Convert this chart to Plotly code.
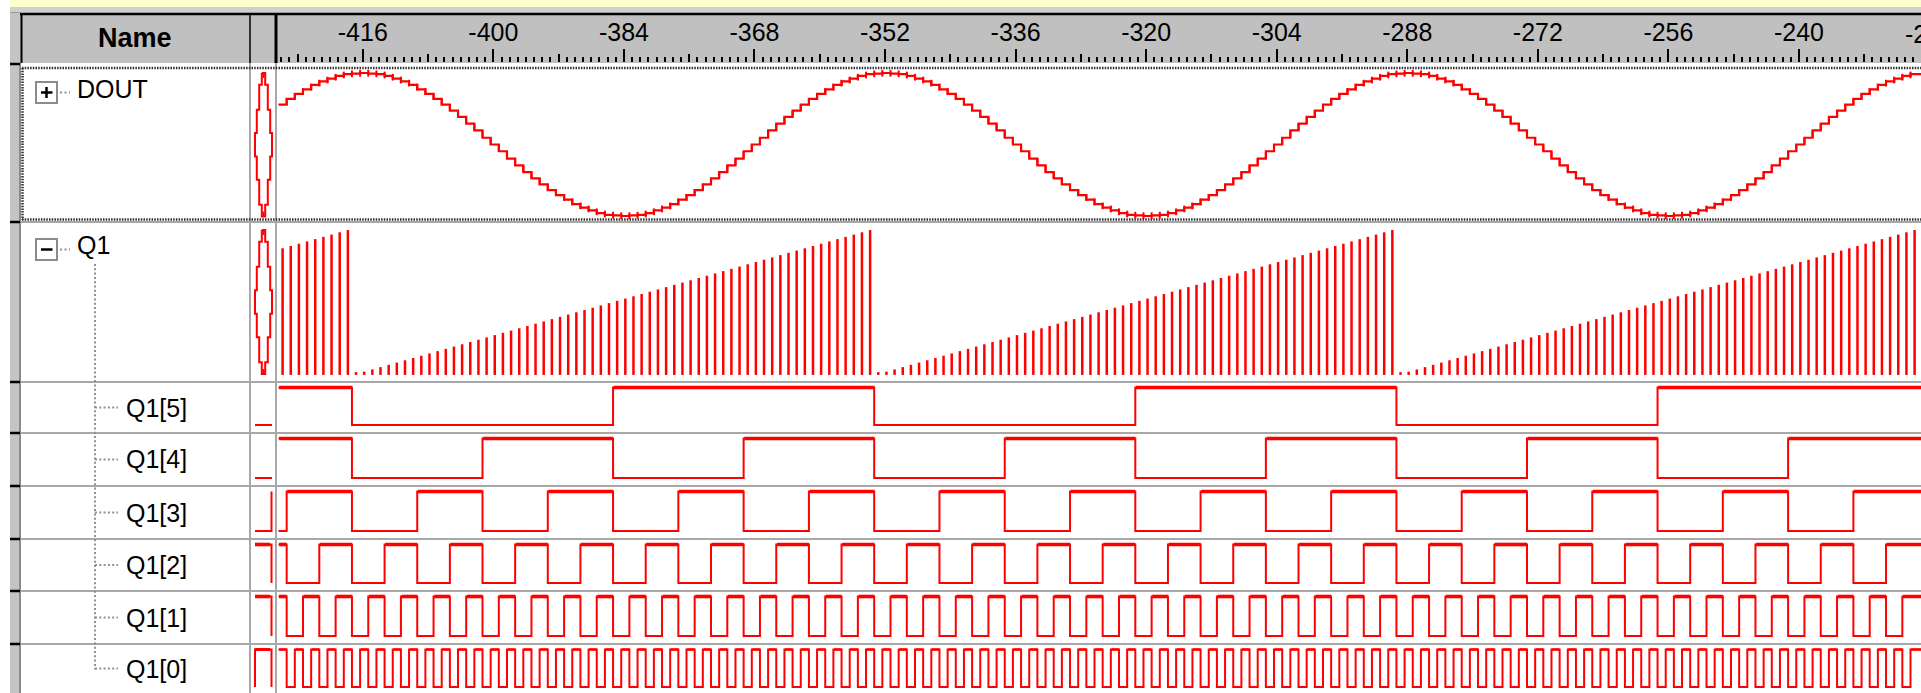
import plotly.graph_objects as go

# ---------------- data ----------------
tick_values = [-416, -400, -384, -368, -352, -336, -320, -304, -288, -272, -256, -240]
tick_labels = ["-416", "-400", "-384", "-368", "-352", "-336", "-320", "-304",
               "-288", "-272", "-256", "-240"]
mid_tick_values = [-424, -408, -392, -376, -360, -344, -328, -312, -296, -280,
                   -264, -248, -232]
minor_tick_step = 1
cut_label_value = -224
cut_label_text = "-224"

group_names = ["DOUT", "Q1"]
bit_names = ["Q1[5]", "Q1[4]", "Q1[3]", "Q1[2]", "Q1[1]", "Q1[0]"]
bit_positions = [5, 4, 3, 2, 1, 0]
# glyph shown in the value column for each bit row
bit_value_glyphs = ["low", "low", "rise", "fall", "fall", "pulse"]

time_start = -426.33
clock_period = 1.0

# counter Q1 value in every clock step visible in the window
q1_values = [
    55, 56, 57, 58, 59, 60, 61, 62, 63,
    0, 1, 2, 3, 4, 5, 6, 7, 8, 9, 10, 11, 12, 13, 14, 15, 16, 17, 18, 19, 20, 21,
    22, 23, 24, 25, 26, 27, 28, 29, 30, 31, 32, 33, 34, 35, 36, 37, 38, 39, 40, 41,
    42, 43, 44, 45, 46, 47, 48, 49, 50, 51, 52, 53, 54, 55, 56, 57, 58, 59, 60, 61,
    62, 63,
    0, 1, 2, 3, 4, 5, 6, 7, 8, 9, 10, 11, 12, 13, 14, 15, 16, 17, 18, 19, 20, 21,
    22, 23, 24, 25, 26, 27, 28, 29, 30, 31, 32, 33, 34, 35, 36, 37, 38, 39, 40, 41,
    42, 43, 44, 45, 46, 47, 48, 49, 50, 51, 52, 53, 54, 55, 56, 57, 58, 59, 60, 61,
    62, 63,
    0, 1, 2, 3, 4, 5, 6, 7, 8, 9, 10, 11, 12, 13, 14, 15, 16, 17, 18, 19, 20, 21,
    22, 23, 24, 25, 26, 27, 28, 29, 30, 31, 32, 33, 34, 35, 36, 37, 38, 39, 40, 41,
    42, 43, 44, 45, 46, 47, 48, 49, 50, 51, 52, 53, 54, 55, 56, 57, 58, 59, 60, 61,
    62, 63,
]

# sine ROM read by the counter (DOUT shows the word addressed one clock earlier)
dout_rom = [
    255, 254, 253, 250, 245, 240, 234, 226, 218, 209, 199, 188, 177, 165, 153, 140,
    128, 116, 103, 91, 79, 68, 57, 47, 38, 30, 22, 16, 11, 6, 3, 2,
    1, 2, 3, 6, 11, 16, 22, 30, 38, 47, 57, 68, 79, 91, 103, 116,
    128, 140, 153, 165, 177, 188, 199, 209, 218, 226, 234, 240, 245, 250, 253, 254,
]
dout_first_address = 54
dout_values = [dout_rom[a] for a in [dout_first_address] + q1_values[:-1]]

# ---------------- geometry (pixels) ----------------
W, H = 1921, 693
FONT = "Liberation Sans, Arial, sans-serif"
RED = "#FF0000"
PX_PER_UNIT = 8.16
TICK_REF_T, TICK_REF_PX = -416, 362.8
WAVE_L = 278


def px(x):
    return x / W


def py(y):
    return 1 - y / H


def t_at(xpix):
    return TICK_REF_T + (xpix - TICK_REF_PX) / PX_PER_UNIT


def x_of(t):
    return TICK_REF_PX + (t - TICK_REF_T) * PX_PER_UNIT


x_range = [t_at(WAVE_L), t_at(W)]


def ydom(top, bottom):
    return [max(0.0, py(bottom)), min(1.0, py(top))]


def yrng(top, bottom, v_hi, px_hi, v_lo, px_lo):
    s = (px_lo - px_hi) / (v_hi - v_lo)
    return [v_lo - (bottom - px_lo) / s, v_hi + (px_hi - top) / s]


times = [time_start + i * clock_period for i in range(len(q1_values))]
t_end = x_range[1] + 2

fig = go.Figure()

# DOUT stepped sine
fig.add_trace(go.Scatter(
    x=times + [t_end], y=dout_values + [dout_values[-1]], mode="lines",
    line=dict(color=RED, width=2.2, shape="hv"), xaxis="x", yaxis="y",
    hoverinfo="skip", showlegend=False))
fig.add_trace(go.Scatter(
    x=times[1:], y=[(dout_values[i - 1] + dout_values[i]) / 2 for i in range(1, len(times))],
    mode="markers", marker=dict(symbol="line-ns", size=4.8, color=RED,
                                line=dict(color=RED, width=2)),
    xaxis="x", yaxis="y", hoverinfo="skip", showlegend=False, cliponaxis=False))

# Q1 bus drawn as a vertical bar per clock step
bx, by = [], []
for t, v in zip(times, q1_values):
    c = t + clock_period / 2
    bx += [c, c, None]
    by += [-0.4, max(v, 0.8), None]
fig.add_trace(go.Scatter(x=bx, y=by, mode="lines", line=dict(color=RED, width=2.5),
                         xaxis="x", yaxis="y2", hoverinfo="skip", showlegend=False))

# bit rows
for n, k in enumerate(bit_positions):
    bits = [(q >> k) & 1 for q in q1_values]
    ya = "y%d" % (n + 3)
    fig.add_trace(go.Scatter(x=times + [t_end], y=bits + [bits[-1]], mode="lines",
                             line=dict(color=RED, width=2, shape="hv"),
                             xaxis="x", yaxis=ya, hoverinfo="skip", showlegend=False))
    hx, hy = [], []
    i = 0
    while i < len(bits):
        if bits[i] == 1:
            j = i
            while j < len(bits) and bits[j] == 1:
                j += 1
            end = times[j] if j < len(bits) else t_end
            hx += [times[i] + 0.08, end, None]
            hy += [1, 1, None]
            i = j
        else:
            i += 1
    fig.add_trace(go.Scatter(x=hx, y=hy, mode="lines",
                             line=dict(color=RED, width=3.6 if k > 0 else 2.4),
                             xaxis="x", yaxis=ya, hoverinfo="skip", showlegend=False))

# dummy trace for the medium-tick axis
fig.add_trace(go.Scatter(x=[None], y=[None], xaxis="x2", yaxis="y", showlegend=False,
                         hoverinfo="skip"))

# ---------------- axes ----------------
DOUT_ROW = (68, 220)
Q1_ROW = (222, 382)
bit_tops = [382, 433, 486, 539, 591, 644]
bit_bots = [433, 486, 539, 591, 644, 693]
bit_high = [t + 5.5 for t in bit_tops]
bit_low = [433 - 8, 486 - 8, 539 - 8, 591 - 8, 644 - 8, 687]

layout_axes = {}
layout_axes["yaxis"] = dict(domain=ydom(*DOUT_ROW),
                            range=yrng(DOUT_ROW[0], DOUT_ROW[1], 255, 73, 1, 216))
layout_axes["yaxis2"] = dict(domain=ydom(*Q1_ROW),
                             range=yrng(Q1_ROW[0], Q1_ROW[1], 63, 230, 0, 374))
for n in range(6):
    top, bot = bit_tops[n], bit_bots[n]
    layout_axes["yaxis%d" % (n + 3)] = dict(domain=ydom(top, bot),
                                            range=yrng(top, bot, 1, bit_high[n], 0, bit_low[n]))
for k, a in layout_axes.items():
    a.update(visible=False, fixedrange=True, anchor="x")

HEADER_AXIS_Y = 61.5
xaxis = dict(domain=[px(WAVE_L), 1], range=x_range, side="top", anchor="free",
             position=py(HEADER_AXIS_Y), tickmode="array", tickvals=tick_values,
             ticktext=tick_labels, ticks="outside", ticklen=13, tickwidth=2,
             tickcolor="black", tickfont=dict(family=FONT, size=25, color="black"),
             ticklabelstandoff=-2,
             showgrid=False, zeroline=False, showline=False, fixedrange=True,
             minor=dict(tickmode="linear", tick0=tick_values[0], dtick=minor_tick_step,
                        ticks="outside", ticklen=5, tickwidth=2, tickcolor="black",
                        showgrid=False))
xaxis2 = dict(overlaying="x", range=x_range, side="top", anchor="free",
              position=py(HEADER_AXIS_Y), tickmode="array", tickvals=mid_tick_values,
              ticks="outside", ticklen=8, tickwidth=2, tickcolor="black",
              showticklabels=False, showgrid=False, zeroline=False, showline=False,
              fixedrange=True)

# ---------------- window chrome ----------------
shapes = []


def rect(x0, y0, x1, y1, fill, layer="below"):
    shapes.append(dict(type="rect", xref="paper", yref="paper", x0=px(x0), x1=px(x1),
                       y0=py(y1), y1=py(y0), fillcolor=fill, line=dict(width=0),
                       layer=layer))


def line(x0, y0, x1, y1, color, width, dash=None, layer="below"):
    d = dict(type="line", xref="paper", yref="paper", x0=px(x0), x1=px(x1),
             y0=py(y0), y1=py(y1), line=dict(color=color, width=width), layer=layer)
    if dash:
        d["line"]["dash"] = dash
    shapes.append(d)


def path(points, color, width, layer="below"):
    p = "M " + " L ".join("%.6f,%.6f" % (px(x), py(y)) for x, y in points)
    shapes.append(dict(type="path", xref="paper", yref="paper", path=p,
                       line=dict(color=color, width=width), layer=layer))


rect(10, 0, W, 7, "#FFFFCC")
rect(10, 7, W, 13, "#D0D0D0")
rect(10, 13, W, 63, "#C0C0C0")
line(10, 14, W, 14, "#000000", 2.5)
rect(10, 13, 20, H, "#C4C4C4")
line(20, 63, 20, H, "#8A8A8A", 2)
line(21.5, 15, 21.5, 63, "#000000", 2)
line(250, 15, 250, 63, "#303030", 2)
line(276, 15, 276, 63, "#000000", 3)
line(22, 64, W, 64, "#FFFFFF", 2)

# column dividers and row separators
line(250, 63, 250, H, "#A8A8A8", 2)
line(276, 63, 276, H, "#A8A8A8", 2)
for yy in [222] + bit_tops:
    line(21, yy, W, yy, "#A8A8A8", 2)
for yy in [64, 222] + bit_tops:
    line(10, yy, 20, yy, "#000000", 2.5)

# focus rectangle around DOUT
line(22, 68, W, 68, "#303030", 2.5, dash="1.5px,1.2px")
line(22, 219.5, W, 219.5, "#303030", 2.5, dash="1.5px,1.2px")
line(22.5, 68, 22.5, 220, "#303030", 2.5, dash="1.5px,1.2px")

# expand / collapse boxes and tree lines
for top, sign in [(82, "+"), (239, "-")]:
    shapes.append(dict(type="rect", xref="paper", yref="paper", x0=px(36), x1=px(57),
                       y0=py(top + 21), y1=py(top), line=dict(color="#8C8C8C", width=2),
                       fillcolor="rgba(0,0,0,0)", layer="below"))
    cy = top + 10.5
    line(41, cy, 52.5, cy, "#000000", 2.5)
    if sign == "+":
        line(46.5, top + 5, 46.5, top + 16, "#000000", 2.5)
    line(60, cy, 70, cy, "#909090", 2, dash="2px,2.5px")

bit_centers = [(bit_tops[n] + bit_bots[n]) / 2 for n in range(6)]
line(95, 264, 95, bit_centers[-1] + 1, "#909090", 2, dash="2px,2.3px")
for cy in bit_centers:
    line(95, cy, 118, cy, "#909090", 2, dash="2px,2.3px")


# value column glyphs
def bus_glyph(cx, top, bottom):
    fr = [0, 35, 110, 180, 250, 320, 395, 430]
    hw = [1.7, 4.3, 6.7, 8.5, 6.7, 4.3, 1.7]
    ys = [top + f / 430 * (bottom - top) for f in fr]
    pts = []
    for i in range(7):
        pts += [(cx - hw[i], ys[i]), (cx - hw[i], ys[i + 1])]
    for i in reversed(range(7)):
        pts += [(cx + hw[i], ys[i + 1]), (cx + hw[i], ys[i])]
    pts.append(pts[0])
    path(pts, RED, 2, layer="above")
    line(cx, top - 0.5, cx, top + 5, RED, 2, layer="above")
    line(cx, bottom - 5, cx, bottom + 0.5, RED, 2, layer="above")


bus_glyph(263.5, 73, 216.5)
bus_glyph(263.5, 230, 374)

for n, kind in enumerate(bit_value_glyphs):
    hi = bit_high[n]
    lo = bit_low[n]
    if kind == "low":
        path([(255, lo), (272, lo)], RED, 2, layer="above")
    elif kind == "rise":
        path([(255, lo), (271.5, lo), (271.5, hi)], RED, 2, layer="above")
    elif kind == "pulse":
        path([(255, lo), (255, hi), (271.5, hi), (271.5, lo)], RED, 2, layer="above")
        line(255, hi, 270, hi, RED, 3, layer="above")
    else:
        path([(255, hi), (271.5, hi), (271.5, lo)], RED, 2, layer="above")
        line(255, hi, 270, hi, RED, 3.6, layer="above")

# ---------------- text ----------------
annotations = []


def text(x, y, s, size=25, anchor="left", bold=False):
    annotations.append(dict(
        xref="paper", yref="paper", x=px(x), y=py(y),
        text="<b>%s</b>" % s if bold else s, showarrow=False, xanchor=anchor,
        yanchor="middle", font=dict(family=FONT, size=size, color="#000000"),
        borderpad=0))


text(134.5, 38, "Name", size=27, anchor="center", bold=True)
text(76, 89, group_names[0])
text(76, 245, group_names[1])
for n, name in enumerate(bit_names):
    text(125, bit_centers[n], name)
# tick label of the next major tick, cut by the window edge
text(x_of(cut_label_value), 34, cut_label_text, anchor="center")

fig.update_layout(
    width=W, height=H, margin=dict(l=0, r=0, t=0, b=0, pad=0),
    paper_bgcolor="#FFFFFF", plot_bgcolor="rgba(0,0,0,0)",
    showlegend=False, xaxis=xaxis, xaxis2=xaxis2, shapes=shapes,
    annotations=annotations, hovermode=False, dragmode=False,
    **layout_axes)

fig.write_html("out.html", config={"displayModeBar": False, "staticPlot": True},
               post_script="document.body.style.margin='0px';"
                           "document.body.style.overflow='hidden';")
